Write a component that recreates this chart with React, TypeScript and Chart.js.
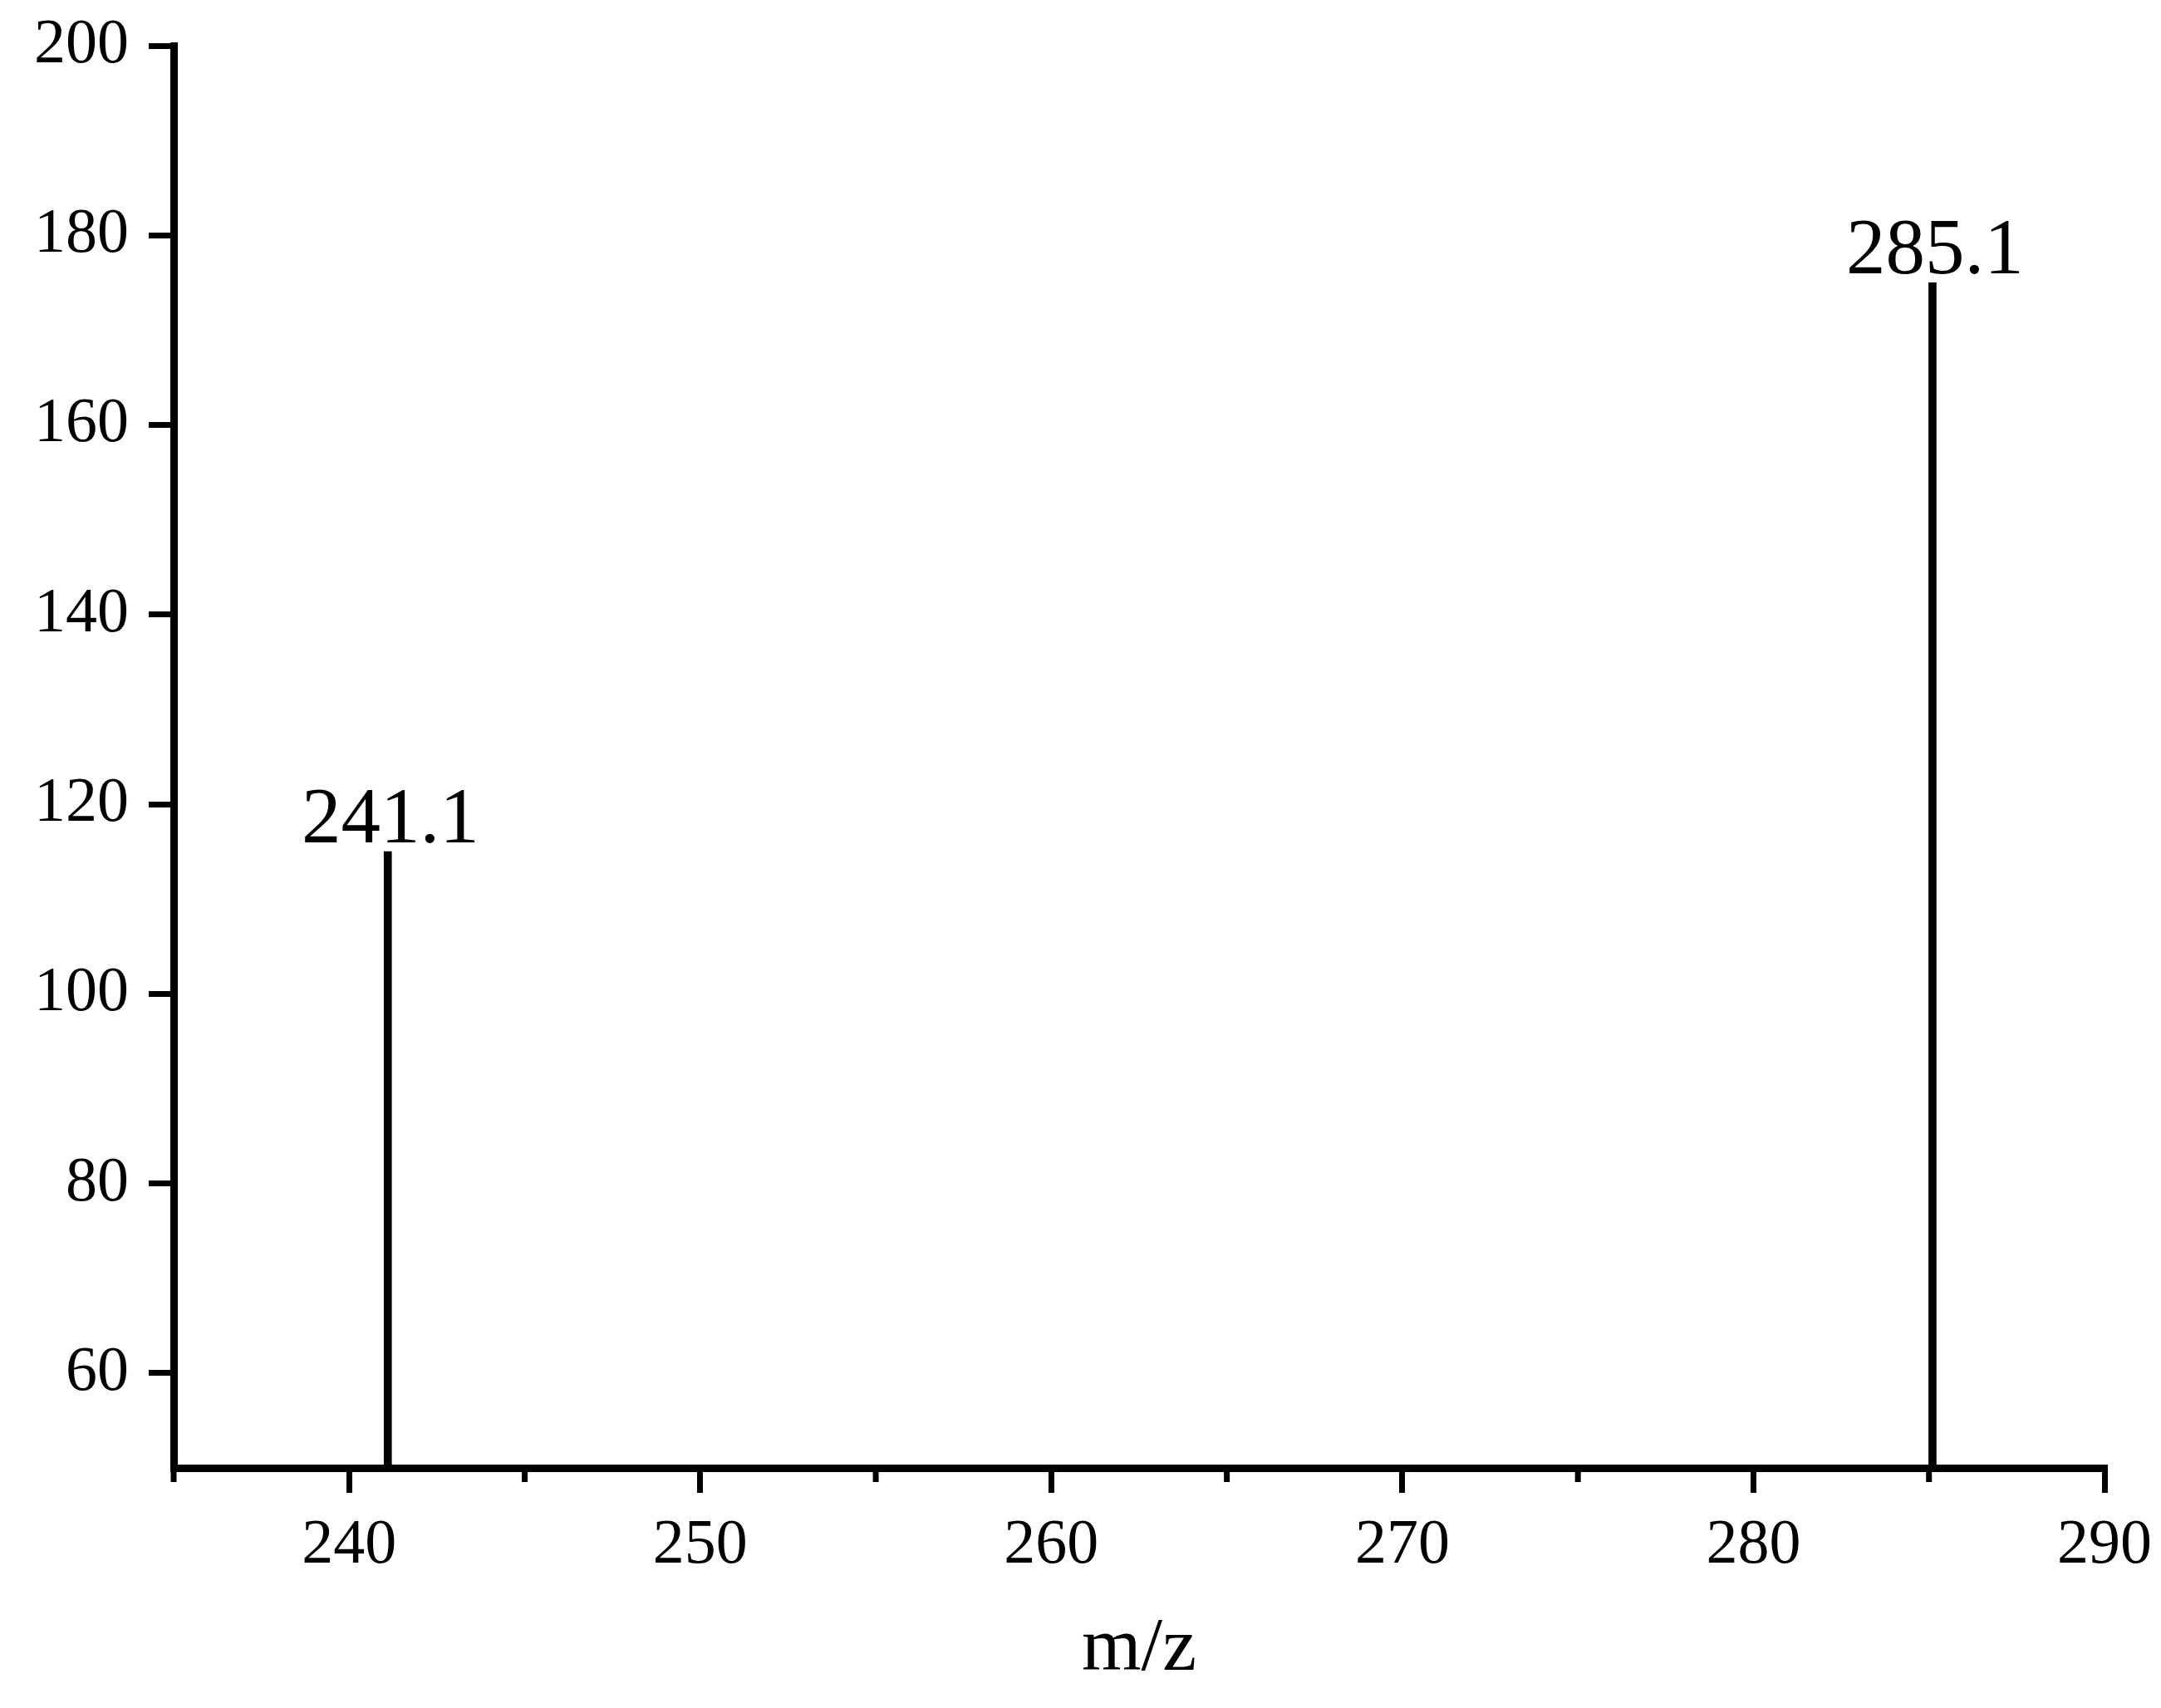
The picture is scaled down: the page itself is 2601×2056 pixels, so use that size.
import React, { useEffect, useRef } from 'react';
import { Chart, registerables } from 'chart.js';

Chart.register(...registerables);

const peakMz = [241.1, 285.1];
const peakIntensity = [115, 175];
const peakLabels = ['241.1', '285.1'];
const xMajorTicks = [240, 250, 260, 270, 280, 290];
const xMinorTicks = [235, 245, 255, 265, 275, 285];
const yTicks = [60, 80, 100, 120, 140, 160, 180, 200];
const xAxisTitle = 'm/z';

const FONT = '"Liberation Serif", "Times New Roman", serif';

export default function App() {
  const ref = useRef<HTMLCanvasElement>(null);

  useEffect(() => {
    if (!ref.current) return;

    const peakLabelPlugin = {
      id: 'peakLabels',
      afterDatasetsDraw(chart: any) {
        const ctx = chart.ctx;
        const meta = chart.getDatasetMeta(0);
        ctx.save();
        ctx.fillStyle = '#000';
        ctx.font = `95px ${FONT}`;
        ctx.textAlign = 'center';
        ctx.textBaseline = 'alphabetic';
        meta.data.forEach((el: any, i: number) => {
          ctx.fillText(peakLabels[i], el.x + 3, el.y - 11);
        });
        ctx.restore();
      },
    };

    const minorTickPlugin = {
      id: 'minorTicks',
      afterDraw(chart: any) {
        const sx = chart.scales.x;
        const ctx = chart.ctx;
        const y0 = chart.chartArea.bottom;
        ctx.save();
        ctx.strokeStyle = '#000';
        ctx.lineWidth = 7;
        xMinorTicks.forEach((v) => {
          const px = sx.getPixelForValue(v);
          ctx.beginPath();
          ctx.moveTo(px, y0);
          ctx.lineTo(px, y0 + 17);
          ctx.stroke();
        });
        ctx.restore();
      },
    };

    const chart = new Chart(ref.current, {
      type: 'bar',
      data: {
        datasets: [
          {
            data: peakMz.map((m, i) => ({ x: m, y: peakIntensity[i] })),
            backgroundColor: '#000',
            borderWidth: 0,
            barThickness: 9,
            grouped: false,
          } as any,
        ],
      },
      plugins: [peakLabelPlugin, minorTickPlugin],
      options: {
        animation: false,
        responsive: false,
        maintainAspectRatio: false,
        layout: { padding: { top: 55, right: 68, left: 0, bottom: 0 } },
        plugins: {
          legend: { display: false },
          tooltip: { enabled: false },
          title: { display: false },
        },
        scales: {
          x: {
            type: 'linear',
            min: 235,
            max: 290,
            offset: false,
            afterBuildTicks: (s: any) => {
              s.ticks = xMajorTicks.map((v) => ({ value: v }));
            },
            afterFit: (s: any) => {
              s.height = 289;
              s.paddingLeft = 0;
              s.paddingRight = 0;
            },
            grid: {
              offset: false,
              drawOnChartArea: false,
              drawTicks: true,
              tickLength: 30,
              lineWidth: 7,
              color: '#000',
            },
            border: { display: true, width: 9, color: '#000' },
            ticks: {
              color: '#000',
              font: { family: FONT, size: 76 },
              padding: 18,
              maxRotation: 0,
              autoSkip: false,
              callback: (v: any) => String(v),
            },
            title: {
              display: true,
              text: xAxisTitle,
              color: '#000',
              font: { family: FONT, size: 92 },
              padding: { top: 0, bottom: 15 },
            },
          },
          y: {
            type: 'linear',
            min: 50,
            max: 200,
            afterBuildTicks: (s: any) => {
              s.ticks = yTicks.map((v) => ({ value: v }));
            },
            afterFit: (s: any) => {
              s.width = 209;
              s.paddingTop = 0;
              s.paddingBottom = 0;
            },
            grid: {
              offset: false,
              drawOnChartArea: false,
              drawTicks: true,
              tickLength: 30,
              lineWidth: 7,
              color: '#000',
            },
            border: { display: true, width: 9, color: '#000' },
            ticks: {
              color: '#000',
              font: { family: FONT, size: 76 },
              padding: 24,
              autoSkip: false,
              callback: (v: any) => String(v),
            },
          },
        },
      } as any,
    });

    return () => chart.destroy();
  }, []);

  return (
    <div style={{ position: 'absolute', left: 0, top: 0, width: 2601, height: 2056, background: '#fff' }}>
      <canvas ref={ref} width={2601} height={2056} style={{ display: 'block', width: 2601, height: 2056 }} />
    </div>
  );
}
